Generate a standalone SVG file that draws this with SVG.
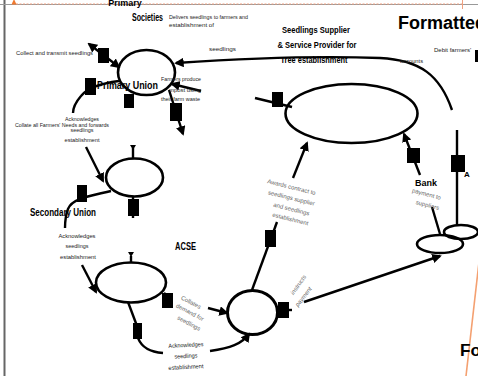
<svg xmlns="http://www.w3.org/2000/svg" width="478" height="376" viewBox="0 0 478 376">
  <style>
    .node { fill: none; stroke: #000; stroke-width: 2.6; }
    .link { fill: none; stroke: #000; stroke-width: 2.4; }
    .box { fill: #000; }
    .title { font-family: "Liberation Sans", Arial, sans-serif; font-weight: bold; fill: #000; }
    .note { font-family: "Liberation Sans", Arial, sans-serif; font-size: 6px; fill: #222; }
    .soft { font-family: "Liberation Sans", Arial, sans-serif; font-size: 6px; fill: #666; text-anchor: middle; }
  </style>
  <defs>
    <marker id="arrow" viewBox="0 0 10 10" refX="8" refY="5" markerWidth="4" markerHeight="4" orient="auto-start-reverse">
      <path d="M0,0 L10,5 L0,10 Z" fill="#000"/>
    </marker>
  </defs>

  <rect width="478" height="376" fill="#fff"/>

  <!-- page frame and tracked-change marks -->
  <g id="frame">
    <line x1="4.5" y1="0" x2="4.5" y2="376" stroke="#666" stroke-width="2"/>
    <line x1="0" y1="4.5" x2="478" y2="4.5" stroke="#999" stroke-width="1"/>
    <line x1="16" y1="4" x2="462" y2="4" stroke="#f0a080" stroke-width="1" stroke-dasharray="2 1.5"/>
    <path d="M11.5,4.5 L14,-1 L16.5,4.5 Z" fill="#f07a30"/>
    <line x1="462.5" y1="0" x2="462.5" y2="9" stroke="#f0a080" stroke-width="1"/>
    <line x1="479" y1="262" x2="466" y2="376" stroke="#f4a070" stroke-width="1.6"/>
    <text class="title" x="398" y="29" font-size="18">Formatted</text>
    <text class="title" x="460" y="356" font-size="17">Fo</text>
  </g>

  <!-- connectors -->
  <g id="connectors">
    <path class="link" d="M119,67 L89,44" marker-start="url(#arrow)" marker-end="url(#arrow)"/>
    <path class="link" d="M452,110 C440,75 420,60 380,58 C330,56 250,58 176,63" marker-end="url(#arrow)"/>
    <path class="link" d="M201,91 L172,84" marker-end="url(#arrow)"/>
    <path class="link" d="M169,90 L183,134" marker-end="url(#arrow)"/>
    <path class="link" d="M119,81 C104,83 88,87 81,96 C75,103 73,109 73,113"/>
    <path class="link" d="M129,95 L129,108"/>

    <path class="link" d="M133,148 L133,158"/>
    <path d="M130,145 L136,145 L133,150 Z" fill="#000"/>
    <path class="link" d="M86,147 L103,181" marker-end="url(#arrow)"/>
    <path class="link" d="M111,191 C90,196 72,198 68,209 C65,217 65,224 65,228"/>
    <path class="link" d="M133,196 L133,218"/>

    <path class="link" d="M131,256 L131,262"/>
    <path d="M128,252 L134,252 L131,257 Z" fill="#000"/>
    <path class="link" d="M82,265 L96,292" marker-end="url(#arrow)"/>
    <path class="link" d="M164,293 L170,298"/>
    <path class="link" d="M128,302 L137,326"/>
    <path class="link" d="M138,338 C142,348 150,352 163,353"/>
    <path class="link" d="M208,308 L227,313" marker-end="url(#arrow)"/>
    <path class="link" d="M210,351 C230,348 242,344 249,334" marker-end="url(#arrow)"/>

    <path class="link" d="M277,310 L292,310"/>
    <path class="link" d="M252,290 L277,222"/>
    <path class="link" d="M293,178 L307,143" marker-end="url(#arrow)"/>
    <path class="link" d="M304,302 L440,256" marker-end="url(#arrow)"/>
    <path class="link" d="M255,98 L292,107"/>

    <path class="link" d="M420,175 L404,134" marker-end="url(#arrow)"/>
    <path class="link" d="M432,207 L440,234"/>
    <path class="link" d="M457,130 L457,226"/>

    <rect class="box" x="98" y="48" width="11" height="15"/>
    <rect class="box" x="85" y="78" width="11" height="17"/>
    <rect class="box" x="124" y="94" width="10" height="14"/>
    <rect class="box" x="170" y="103" width="12" height="18"/>
    <rect class="box" x="77" y="185" width="10" height="17"/>
    <rect class="box" x="128" y="199" width="11" height="17"/>
    <rect class="box" x="162" y="293" width="11" height="15"/>
    <rect class="box" x="133" y="323" width="9" height="16"/>
    <rect class="box" x="278" y="302" width="11" height="16"/>
    <rect class="box" x="265" y="230" width="11" height="17"/>
    <rect class="box" x="272" y="92" width="11" height="15"/>
    <rect class="box" x="407" y="148" width="13" height="15"/>
    <rect class="box" x="451" y="155" width="14" height="17"/>
    <rect class="box" x="475" y="50" width="3" height="12"/>
  </g>

  <!-- Primary Union -->
  <g id="primary-union">
    <ellipse class="node" cx="146.5" cy="72.5" rx="28.5" ry="22.5"/>
    <text class="title" x="125" y="6" font-size="9" text-anchor="middle">Primary</text>
    <text class="title" x="132" y="21" font-size="10" textLength="31" lengthAdjust="spacingAndGlyphs">Societies</text>
    <text class="title" x="97" y="89" font-size="10" textLength="61" lengthAdjust="spacingAndGlyphs">Primary Union</text>
    <text class="note" x="169" y="19" textLength="79" lengthAdjust="spacingAndGlyphs">Delivers seedlings to farmers and</text>
    <text class="note" x="169" y="27" textLength="45" lengthAdjust="spacingAndGlyphs">establishment of</text>
    <text class="note" x="209" y="51" textLength="27" lengthAdjust="spacingAndGlyphs">seedlings</text>
    <text class="note" x="16" y="55" textLength="77" lengthAdjust="spacingAndGlyphs">Collect and transmit seedlings</text>
    <text class="note" x="161" y="81" textLength="40" lengthAdjust="spacingAndGlyphs">Farmers produce</text>
    <text class="note" x="169" y="92" textLength="32" lengthAdjust="spacingAndGlyphs">mpost using</text>
    <text class="note" x="161" y="101" textLength="39" lengthAdjust="spacingAndGlyphs">their farm waste</text>
    <text class="note" x="15" y="127" textLength="94" lengthAdjust="spacingAndGlyphs">Collate all Farmers' Needs and forwards</text>
    <text class="note" x="82" y="121" text-anchor="middle" textLength="34" lengthAdjust="spacingAndGlyphs">Acknowledges</text>
    <text class="note" x="82" y="132" text-anchor="middle" textLength="23" lengthAdjust="spacingAndGlyphs">seedlings</text>
    <text class="note" x="82" y="142" text-anchor="middle" textLength="35" lengthAdjust="spacingAndGlyphs">establishment</text>
  </g>

  <!-- Secondary Union -->
  <g id="secondary-union">
    <ellipse class="node" cx="134.5" cy="177.5" rx="28.5" ry="19"/>
    <text class="title" x="30" y="216" font-size="10" textLength="66" lengthAdjust="spacingAndGlyphs">Secondary Union</text>
    <text class="note" x="77" y="238" text-anchor="middle" textLength="37" lengthAdjust="spacingAndGlyphs">Acknowledges</text>
    <text class="note" x="77" y="248" text-anchor="middle" textLength="23" lengthAdjust="spacingAndGlyphs">seedlings</text>
    <text class="note" x="78" y="259" text-anchor="middle" textLength="36" lengthAdjust="spacingAndGlyphs">establishment</text>
  </g>

  <!-- ACSE -->
  <g id="acse">
    <ellipse class="node" cx="131" cy="282.5" rx="35" ry="20"/>
    <text class="title" x="175" y="250" font-size="10" textLength="21" lengthAdjust="spacingAndGlyphs">ACSE</text>
    <text class="soft" transform="translate(190,304) rotate(28)">Collates</text>
    <text class="soft" transform="translate(189,314) rotate(28)">demand for</text>
    <text class="soft" transform="translate(188,325) rotate(28)">seedlings</text>
    <text class="note" x="186" y="347" text-anchor="middle" transform="rotate(-3 186 347)" textLength="35" lengthAdjust="spacingAndGlyphs">Acknowledges</text>
    <text class="note" x="186" y="358" text-anchor="middle" transform="rotate(-3 186 358)" textLength="23" lengthAdjust="spacingAndGlyphs">seedlings</text>
    <text class="note" x="186" y="369" text-anchor="middle" transform="rotate(-3 186 369)" textLength="35" lengthAdjust="spacingAndGlyphs">establishment</text>
  </g>

  <!-- contracting hub -->
  <g id="hub">
    <ellipse cx="252.5" cy="312.5" rx="25" ry="22" fill="none" stroke="#000" stroke-width="3"/>
    <text class="soft" transform="translate(291,189) rotate(14)">Awards contract to</text>
    <text class="soft" transform="translate(291,200) rotate(14)">seedlings supplier</text>
    <text class="soft" transform="translate(291,211) rotate(14)">and seedlings</text>
    <text class="soft" transform="translate(290,221) rotate(14)">establishment</text>
    <text class="soft" font-style="italic" transform="translate(300,286) rotate(-55)">instructs</text>
    <text class="soft" font-style="italic" transform="translate(305,298) rotate(-52)">payment</text>
  </g>

  <!-- Seedlings Supplier -->
  <g id="seedlings-supplier">
    <ellipse class="node" cx="351.5" cy="113.5" rx="66" ry="29.5"/>
    <text class="title" x="316" y="33" font-size="9.5" text-anchor="middle" textLength="68" lengthAdjust="spacingAndGlyphs">Seedlings Supplier</text>
    <text class="title" x="317" y="48" font-size="9.5" text-anchor="middle" textLength="79" lengthAdjust="spacingAndGlyphs">&amp; Service Provider for</text>
    <text class="title" x="314" y="63" font-size="9.5" text-anchor="middle" textLength="67" lengthAdjust="spacingAndGlyphs">Tree  establishment</text>
    <text class="note" x="434" y="52" font-size="5">Debit farmers'</text>
    <text class="note" x="400" y="63" textLength="23" lengthAdjust="spacingAndGlyphs">accounts</text>
  </g>

  <!-- Bank -->
  <g id="bank">
    <ellipse class="node" cx="461" cy="232" rx="17" ry="7"/>
    <ellipse class="node" cx="440" cy="244" rx="23" ry="9"/>
    <text class="title" x="415" y="186" font-size="9.5" textLength="22" lengthAdjust="spacingAndGlyphs">Bank</text>
    <text class="soft" transform="translate(426,196) rotate(15)">payment to</text>
    <text class="soft" transform="translate(427,207) rotate(15)">suppliers</text>
    <text class="title" x="464" y="177" font-size="8">A</text>
  </g>
</svg>
